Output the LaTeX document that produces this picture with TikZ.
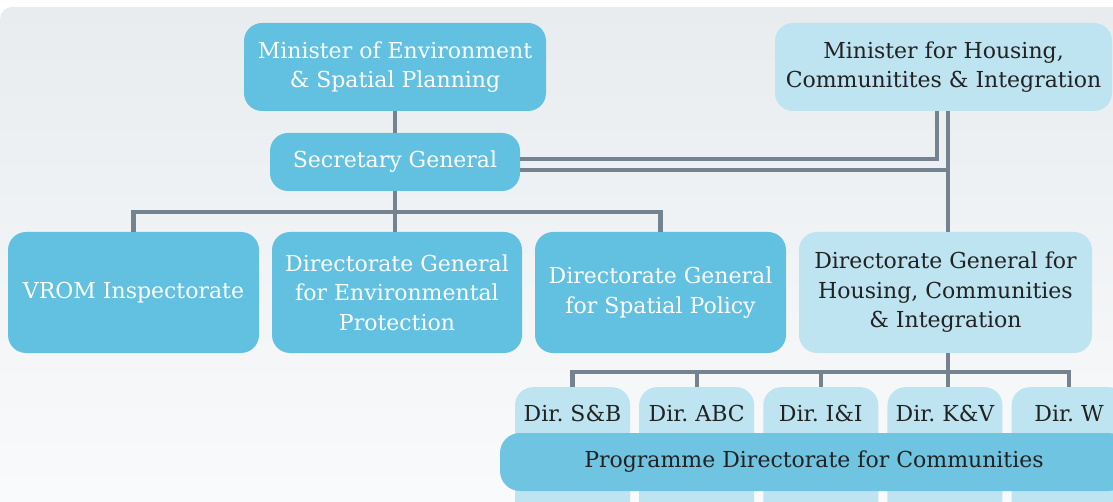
\documentclass[tikz,border=0pt]{standalone}
\usepackage{fontspec}
\setmainfont{DejaVu Serif}
\usetikzlibrary{positioning}
\definecolor{vromblue}{RGB}{98,193,224}
\definecolor{paleblue}{RGB}{190,227,241}
\definecolor{progblue}{RGB}{111,196,226}
\definecolor{linegray}{RGB}{116,131,143}
\definecolor{inkgray}{RGB}{34,34,34}
\definecolor{bgtop}{RGB}{232,236,239}
\definecolor{bgbottom}{RGB}{250,251,252}
\newcommand\orgfont{\fontsize{22}{29.5}\selectfont}
\tikzset{
	orgbox/.style   = {shape=rectangle, rounded corners=18pt, align=center,
		inner sep=2pt, font=\orgfont},
	darkbox/.style  = {orgbox, fill=vromblue, text=white},
	lightbox/.style = {orgbox, fill=paleblue, text=inkgray},
	dirbox/.style   = {lightbox, minimum width=115pt, inner ysep=0pt,
		text height=34pt, text depth=119pt},
	progbox/.style  = {orgbox, rounded corners=20pt, fill=progblue, text=inkgray},
	link/.style     = {draw=linegray, line width=4.2pt},
}

\begin{document}
\frenchspacing
\begin{tikzpicture}[x=1pt, y=-1pt]
	\useasboundingbox (0,0) rectangle (1113,502);
	\clip (0,0) rectangle (1113,502);
	\shade[top color=bgtop, bottom color=bgbottom, rounded corners=12pt]
		(0,7) rectangle (1140,530);
	
	% ministers and secretary general
	\node[darkbox, minimum width=302pt, minimum height=88pt] (mEnv) at (395,67)
		{Minister of Environment\\\& Spatial Planning};
	\node[lightbox, minimum width=337pt, minimum height=88pt] (mHou) at (943.5,67)
		{Minister for Housing,\\Communitites \& Integration};
	\node[darkbox, minimum width=250pt, minimum height=58pt] (secGen) at (395,162)
		{Secretary General};
	
	% directorates general
	\node[darkbox, minimum width=251pt, minimum height=121pt] (vrom) at (133.5,292.5)
		{VROM Inspectorate};
	\node[darkbox, minimum width=250pt, minimum height=121pt] (dgEnv) at (397,292.5)
		{Directorate General\\for Environmental\\Protection};
	\node[darkbox, minimum width=251pt, minimum height=121pt] (dgSpat) at (660.5,292.5)
		{Directorate General\\for Spatial Policy};
	\node[lightbox, minimum width=293pt, minimum height=121pt] (dgHou) at (945.5,292.5)
		{Directorate General for\\Housing, Communities\\\& Integration};
	
	% directorates under housing
	\node[dirbox, anchor=north] (dirSB) at (572.5,387) {Dir. S\&B};
	\node[dirbox, right=8.75pt of dirSB] (dirABC) {Dir. ABC};
	\node[dirbox, right=8.75pt of dirABC] (dirII) {Dir. I\&I};
	\node[dirbox, right=8.75pt of dirII] (dirKV) {Dir. K\&V};
	\node[dirbox, right=8.75pt of dirKV] (dirW) {Dir. W};
	\node[progbox, minimum width=628pt, minimum height=58pt] (prog) at (814,462)
		{Programme Directorate for Communities};
	
	% connectors
	\coordinate (sgBar) at (395,212);
	\coordinate (houJoin) at (948,170);
	\coordinate (dirBar) at (948,372);
	\draw[link] (mEnv.south) -- (secGen.north);
	\draw[link] ([yshift=3pt]secGen.east) -| ([xshift=-6.5pt]mHou.south);
	\draw[link] ([yshift=-8pt]secGen.east) -- (houJoin);
	\draw[link] (mHou.south -| houJoin) -- (dgHou.north -| houJoin);
	\draw[link] (secGen.south) -- (secGen.south |- dgEnv.north);
	\draw[link] (vrom.north) |- (sgBar) -| (dgSpat.north);
	\draw[link] (dgHou.south -| dirBar) -- (dirKV.north -| dirBar);
	\draw[link] (dirSB.north) |- (dirBar) -| (dirW.north);
	\draw[link] (dirABC.north) -- (dirABC.north |- dirBar);
	\draw[link] (dirII.north) -- (dirII.north |- dirBar);
\end{tikzpicture}
\end{document}
